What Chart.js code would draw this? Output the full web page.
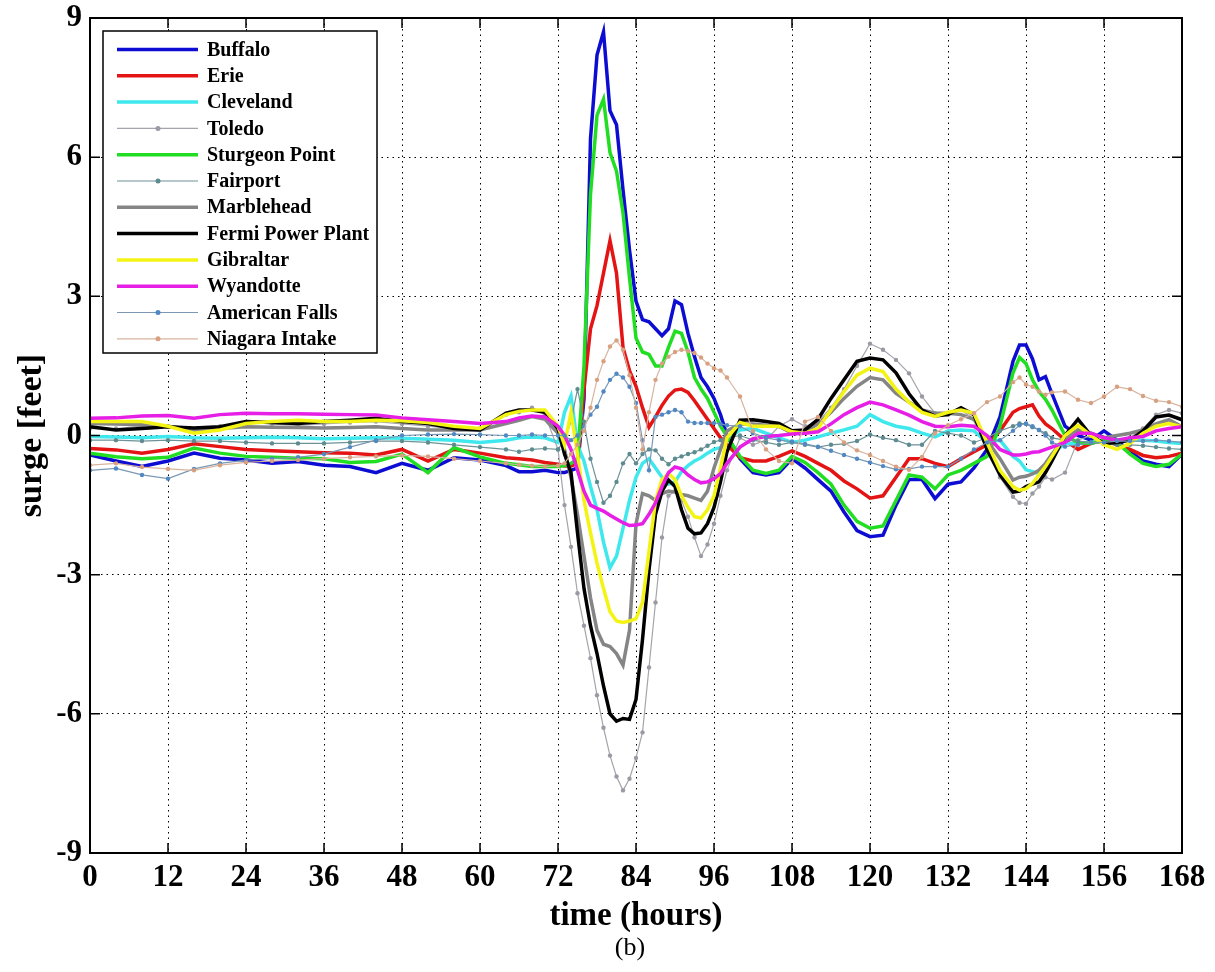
<!DOCTYPE html>
<html>
<head>
<meta charset="utf-8">
<title>surge</title>
<script src="https://cdn.jsdelivr.net/npm/chart.js@4.4.1/dist/chart.umd.min.js"></script>
<style>
	html, body { margin: 0; padding: 0; background: #fff; }
	canvas { display: block; }
</style>
</head>
<body>
<canvas id="surgeChart" width="1215" height="972"></canvas>
<script>
// sampling times (hours), denser during the storm
const hours = [
	0, 4, 8, 12, 16, 20, 24, 28, 32, 36, 40, 44, 48, 52, 56, 60, 64, 66, 68, 70, 72,
	73, 74, 75, 76, 77, 78, 79, 80, 81, 82, 83, 84, 85, 86, 87, 88, 89, 90, 91, 92, 93, 94, 95, 96, 97, 98,
	100, 102, 104, 106, 108, 110, 112, 114, 116, 118, 120, 122, 124, 126, 128, 130, 132, 134, 136, 138, 140, 142,
	143, 144, 145, 146, 147, 148,
	150, 152, 154, 156, 158, 160, 162, 164, 166, 168,
]

const buffalo = [
	-0.42, -0.55, -0.67, -0.55, -0.38, -0.49, -0.53, -0.6, -0.56, -0.64, -0.67, -0.8, -0.6, -0.75, -0.48, -0.53, -0.65, -0.78, -0.78, -0.75, -0.8,
	-0.8, -0.75, -0.7, 0.8, 6.4, 8.2, 8.7, 7.0, 6.7, 5.3, 4.0, 2.9, 2.5, 2.45, 2.3, 2.15, 2.3, 2.9, 2.82, 2.2, 1.7, 1.25, 1.05, 0.8, 0.45, 0.0,
	-0.5, -0.8, -0.85, -0.8, -0.5, -0.7, -0.95, -1.2, -1.65, -2.05, -2.18, -2.15, -1.5, -0.95, -0.95, -1.36, -1.05, -1.0, -0.7, -0.3, 0.4, 1.6,
	1.95, 1.95, 1.65, 1.2, 1.27, 0.9,
	0.2, 0.0, -0.1, 0.1, -0.1, -0.35, -0.55, -0.62, -0.67, -0.4,
]
const erie = [
	-0.28, -0.31, -0.38, -0.3, -0.18, -0.24, -0.3, -0.33, -0.35, -0.37, -0.38, -0.42, -0.3, -0.55, -0.3, -0.38, -0.48, -0.5, -0.53, -0.58, -0.62,
	-0.66, -0.66, -0.6, 1.0, 2.3, 2.8, 3.5, 4.2, 3.5, 1.9, 1.4, 1.06, 0.6, 0.18, 0.4, 0.65, 0.85, 0.98, 1.0, 0.93, 0.75, 0.55, 0.35, 0.15, -0.05, -0.2,
	-0.48, -0.55, -0.55, -0.45, -0.33, -0.45, -0.6, -0.75, -0.98, -1.15, -1.35, -1.3, -0.9, -0.5, -0.5, -0.6, -0.67, -0.5, -0.35, -0.2, 0.1, 0.5,
	0.58, 0.62, 0.66, 0.42, 0.25, 0.15,
	-0.1, -0.3, -0.17, -0.1, -0.2, -0.3, -0.43, -0.48, -0.45, -0.38,
]
const cleveland = [
	-0.02, -0.03, -0.05, -0.02, -0.05, -0.06, -0.05, -0.04, -0.05, -0.07, -0.06, -0.05, -0.06, -0.08, -0.1, -0.15, -0.1, -0.05, -0.03, -0.05, -0.15,
	0.5, 0.85, -0.2, -0.55, -1.1, -1.6, -2.3, -2.85, -2.6, -2.0, -1.4, -0.9, -0.6, -0.5, -0.7, -0.9, -1.05, -1.0, -0.78, -0.65, -0.55, -0.48, -0.38, -0.3, -0.26, -0.1,
	0.12, 0.15, 0.05, -0.05, -0.15, -0.1, -0.03, 0.05, 0.12, 0.2, 0.45, 0.3, 0.2, 0.15, 0.05, -0.03, 0.1, 0.12, 0.1, -0.15, -0.1, -0.45,
	-0.55, -0.74, -0.78, -0.82, -0.65, -0.4,
	-0.17, -0.17, -0.15, -0.1, -0.1, -0.1, -0.1, -0.12, -0.15, -0.17,
]
const toledo = [
	0.15, 0.15, 0.2, 0.2, 0.1, 0.2, 0.28, 0.25, 0.22, 0.25, 0.28, 0.3, 0.25, 0.2, 0.15, 0.15, 0.45, 0.5, 0.6, 0.45, -0.3,
	-1.5, -2.4, -3.4, -4.1, -4.8, -5.6, -6.3, -6.9, -7.35, -7.65, -7.4, -6.95, -6.4, -5.0, -3.6, -2.2, -1.3, -1.2, -1.4, -1.75, -2.2, -2.6, -2.35, -1.9, -1.3, -0.75,
	-0.05, -0.2, -0.1, 0.2, 0.35, 0.2, 0.3, 0.6, 1.0, 1.5, 1.98, 1.85, 1.63, 1.34, 0.84, 0.48, 0.45, 0.55, 0.35, -0.2, -0.9, -1.32,
	-1.45, -1.47, -1.25, -1.1, -0.9, -0.95,
	-0.8, -0.1, 0.0, -0.05, -0.1, -0.05, 0.15, 0.45, 0.55, 0.48,
]
const sturgeonPoint = [
	-0.38, -0.46, -0.5, -0.47, -0.27, -0.38, -0.45, -0.47, -0.49, -0.5, -0.58, -0.56, -0.4, -0.8, -0.26, -0.46, -0.6, -0.63, -0.67, -0.67, -0.67,
	-0.65, -0.6, -0.5, 1.5, 5.2, 6.9, 7.25, 6.1, 5.7, 4.8, 3.4, 2.1, 1.8, 1.75, 1.5, 1.5, 1.9, 2.25, 2.2, 1.8, 1.25, 1.0, 0.8, 0.5, 0.2, -0.02,
	-0.45, -0.75, -0.82, -0.75, -0.45, -0.58, -0.8, -1.05, -1.5, -1.85, -2.0, -1.95, -1.4, -0.85, -0.9, -1.15, -0.85, -0.75, -0.6, -0.45, 0.2, 1.35,
	1.68, 1.55, 1.2, 0.95, 0.78, 0.55,
	0.0, -0.15, -0.17, -0.1, -0.15, -0.4, -0.6, -0.67, -0.62, -0.4,
]
const fairport = [
	-0.1, -0.1, -0.12, -0.1, -0.12, -0.12, -0.15, -0.17, -0.17, -0.17, -0.15, -0.12, -0.12, -0.15, -0.2, -0.25, -0.3, -0.35, -0.3, -0.28, -0.3,
	-0.1, 0.3, 1.0, 0.3, -0.5, -1.0, -1.45, -1.3, -1.0, -0.6, -0.4, -0.6, -0.4, -0.3, -0.32, -0.5, -0.62, -0.5, -0.45, -0.4, -0.36, -0.3, -0.22, -0.14, -0.1, -0.05,
	0.0, -0.1, -0.15, -0.2, -0.15, -0.2, -0.25, -0.2, -0.18, -0.12, 0.02, -0.05, -0.1, -0.2, -0.2, 0.1, 0.05, 0.0, -0.15, -0.05, 0.1, 0.2,
	0.26, 0.25, 0.18, 0.12, 0.05, -0.05,
	-0.1, -0.12, -0.15, -0.18, -0.2, -0.2, -0.22, -0.25, -0.28, -0.3,
]
const marblehead = [
	0.26, 0.25, 0.23, 0.2, 0.12, 0.15, 0.19, 0.18, 0.17, 0.16, 0.17, 0.19, 0.15, 0.12, 0.12, 0.12, 0.26, 0.33, 0.41, 0.35, 0.05,
	-0.3, -0.9, -1.7, -2.6, -3.5, -4.2, -4.5, -4.55, -4.7, -4.95, -4.2, -1.9, -1.25, -1.3, -1.4, -1.25, -1.2, -1.22, -1.27, -1.3, -1.35, -1.4, -1.2, -0.7, -0.3, 0.1,
	0.25, 0.25, 0.22, 0.2, 0.05, 0.08, 0.25, 0.5, 0.8, 1.06, 1.25, 1.2, 0.91, 0.72, 0.55, 0.48, 0.48, 0.45, 0.35, -0.1, -0.5, -0.96,
	-0.9, -0.88, -0.83, -0.75, -0.6, -0.4,
	-0.05, 0.12, 0.05, -0.05, 0.0, 0.05, 0.12, 0.25, 0.34, 0.19,
]
const fermi = [
	0.19, 0.12, 0.15, 0.19, 0.16, 0.19, 0.3, 0.28, 0.26, 0.3, 0.33, 0.37, 0.3, 0.26, 0.15, 0.12, 0.48, 0.55, 0.55, 0.5, 0.15,
	-0.4, -0.8, -2.1, -3.3, -4.1, -4.7, -5.4, -6.0, -6.16, -6.1, -6.12, -5.69, -4.4, -2.9, -1.7, -1.2, -0.96, -1.1, -1.6, -2.0, -2.12, -2.1, -1.9, -1.55, -1.0, -0.35,
	0.33, 0.34, 0.3, 0.26, 0.1, 0.12, 0.35, 0.8, 1.2, 1.6, 1.67, 1.63, 1.35, 0.9, 0.55, 0.42, 0.45, 0.6, 0.45, -0.3, -0.85, -1.22,
	-1.2, -1.1, -1.05, -1.0, -0.8, -0.55,
	0.0, 0.35, 0.0, -0.17, -0.15, -0.1, 0.1, 0.4, 0.44, 0.34,
]
const gibraltar = [
	0.3, 0.3, 0.3, 0.2, 0.05, 0.12, 0.26, 0.3, 0.33, 0.3, 0.3, 0.33, 0.32, 0.28, 0.2, 0.15, 0.45, 0.52, 0.55, 0.55, 0.2,
	-0.2, 0.5, -0.4, -1.4, -2.1, -2.75, -3.3, -3.8, -4.0, -4.03, -4.0, -3.95, -3.6, -2.5, -1.4, -0.95, -0.82, -0.95, -1.3, -1.55, -1.75, -1.78, -1.6, -1.3, -0.7, -0.05,
	0.28, 0.2, 0.2, 0.2, 0.08, 0.05, 0.15, 0.55, 0.95, 1.3, 1.45, 1.38, 1.0, 0.72, 0.5, 0.41, 0.5, 0.55, 0.48, -0.15, -0.75, -1.1,
	-1.18, -1.15, -1.03, -0.85, -0.67, -0.45,
	0.0, 0.22, 0.0, -0.2, -0.3, -0.17, 0.05, 0.2, 0.26, 0.19,
]
const wyandotte = [
	0.37, 0.38, 0.42, 0.43, 0.37, 0.45, 0.48, 0.47, 0.47, 0.46, 0.45, 0.44, 0.38, 0.34, 0.3, 0.26, 0.3, 0.38, 0.42, 0.4, 0.2,
	0.0, -0.3, -0.75, -1.2, -1.5, -1.57, -1.63, -1.72, -1.8, -1.88, -1.94, -1.93, -1.9, -1.7, -1.45, -1.1, -0.8, -0.68, -0.72, -0.85, -0.95, -1.02, -1.0, -0.93, -0.82, -0.6,
	-0.25, -0.07, -0.02, 0.0, 0.03, 0.05, 0.08, 0.25, 0.45, 0.6, 0.72, 0.66, 0.55, 0.44, 0.3, 0.2, 0.19, 0.22, 0.2, 0.0, -0.3, -0.42,
	-0.42, -0.4, -0.36, -0.35, -0.3, -0.25,
	-0.15, 0.05, 0.05, -0.05, -0.1, -0.05, -0.02, 0.1, 0.15, 0.19,
]
const americanFalls = [
	-0.75, -0.71, -0.85, -0.93, -0.72, -0.6, -0.53, -0.5, -0.47, -0.4, -0.25, -0.1, 0.0, 0.02, 0.03, 0.02, 0.0, 0.0, 0.02, 0.0, 0.0,
	0.0, -0.1, 0.0, 0.2, 0.45, 0.62, 0.95, 1.2, 1.33, 1.25, 1.05, 0.7, -0.1, -0.75, 0.4, 0.45, 0.5, 0.55, 0.5, 0.3, 0.27, 0.27, 0.27, 0.27, 0.25, 0.22,
	0.2, 0.05, -0.05, -0.1, -0.13, -0.18, -0.24, -0.33, -0.42, -0.5, -0.58, -0.66, -0.73, -0.72, -0.67, -0.67, -0.67, -0.5, -0.3, -0.15, -0.1, 0.1,
	0.22, 0.26, 0.2, 0.12, 0.0, -0.15,
	-0.24, -0.2, -0.15, -0.15, -0.12, -0.12, -0.12, -0.1, -0.12, -0.15,
]
const niagaraIntake = [
	-0.64, -0.6, -0.68, -0.72, -0.75, -0.64, -0.58, -0.55, -0.53, -0.5, -0.47, -0.45, -0.43, -0.45, -0.5, -0.55, -0.6, -0.63, -0.65, -0.67, -0.65,
	-0.6, -0.4, -0.2, 0.1, 0.6, 1.2, 1.6, 1.92, 2.05, 1.85, 1.3, 0.6, -0.3, 0.5, 1.2, 1.55, 1.7, 1.8, 1.85, 1.82, 1.78, 1.68, 1.55, 1.45, 1.4, 1.25,
	0.84, 0.1, -0.3, -0.55, -0.6, 0.3, 0.4, 0.1, -0.15, -0.32, -0.42, -0.55, -0.67, -0.74, -0.46, 0.05, 0.22, 0.35, 0.48, 0.72, 0.84, 1.15,
	1.25, 1.1, 1.05, 0.95, 0.88, 0.93,
	0.95, 0.77, 0.7, 0.84, 1.05, 1.0, 0.85, 0.75, 0.72, 0.62,
]

const stations = [
	'Buffalo', 'Erie', 'Cleveland', 'Toledo', 'Sturgeon Point', 'Fairport',
	'Marblehead', 'Fermi Power Plant', 'Gibraltar', 'Wyandotte', 'American Falls', 'Niagara Intake',
]
const surgeSeries = [
	buffalo, erie, cleveland, toledo, sturgeonPoint, fairport,
	marblehead, fermi, gibraltar, wyandotte, americanFalls, niagaraIntake,
]
const hourTicks = [0, 12, 24, 36, 48, 60, 72, 84, 96, 108, 120, 132, 144, 156, 168]
const surgeTicks = [-9, -6, -3, 0, 3, 6, 9]

// line styles: [color, width, marker color or null]
const styles = [
	['#0c0cd2', 3.5, null],
	['#e41414', 3.5, null],
	['#3fe8ec', 3.5, null],
	['#a4a4ac', 1.2, '#9a9aa4'],
	['#22de22', 3.5, null],
	['#6e9296', 1.2, '#5c8c90'],
	['#858585', 3.5, null],
	['#000000', 3.5, null],
	['#f4f414', 3.5, null],
	['#e61ee6', 3.5, null],
	['#7a98b4', 1.2, '#4f88c4'],
	['#d8b4a0', 1.2, '#d9a080'],
]

const serif = "'Liberation Serif', 'Times New Roman', serif"

const matlabFrame = {
	id: 'matlabFrame',
	afterDatasetsDraw(chart) {
		const { ctx, chartArea: a, scales: { x, y } } = chart
		ctx.save()
		ctx.strokeStyle = '#000'
		ctx.lineWidth = 1.5
		ctx.beginPath()
		hourTicks.forEach(v => {
			const px = x.getPixelForValue(v)
			ctx.moveTo(px, a.bottom)
			ctx.lineTo(px, a.bottom - 10)
			ctx.moveTo(px, a.top)
			ctx.lineTo(px, a.top + 10)
		})
		surgeTicks.forEach(v => {
			const py = y.getPixelForValue(v)
			ctx.moveTo(a.left, py)
			ctx.lineTo(a.left + 10, py)
			ctx.moveTo(a.right, py)
			ctx.lineTo(a.right - 10, py)
		})
		ctx.stroke()
		ctx.lineWidth = 2
		ctx.strokeRect(a.left, a.top, a.width, a.height)

		// legend box in the upper left corner
		const box = { left: 103, top: 31, width: 274, height: 322 }
		ctx.fillStyle = '#fff'
		ctx.fillRect(box.left, box.top, box.width, box.height)
		ctx.lineWidth = 1.5
		ctx.strokeRect(box.left, box.top, box.width, box.height)
		ctx.font = 'bold 20px ' + serif
		ctx.textBaseline = 'middle'
		chart.data.datasets.forEach((ds, i) => {
			const rowY = 49.5 + i * 26.3
			ctx.strokeStyle = ds.borderColor
			ctx.lineWidth = ds.borderWidth
			ctx.beginPath()
			ctx.moveTo(117, rowY)
			ctx.lineTo(198, rowY)
			ctx.stroke()
			if (ds.pointRadius > 0) {
				ctx.fillStyle = ds.pointBackgroundColor
				ctx.beginPath()
				ctx.arc(158, rowY, 2.5, 0, Math.PI * 2)
				ctx.fill()
			}
			ctx.fillStyle = '#000'
			ctx.fillText(ds.label, 207, rowY + 1)
		})
		ctx.restore()
	},
	afterDraw(chart) {
		const { ctx, chartArea: a } = chart
		ctx.save()
		ctx.fillStyle = '#000'
		ctx.font = '26px ' + serif
		ctx.textAlign = 'center'
		ctx.textBaseline = 'middle'
		ctx.fillText('(b)', (a.left + a.right) / 2 - 6, 948)
		ctx.restore()
	},
}

const ctx = document.getElementById('surgeChart').getContext('2d')
const surgeChart = new Chart(ctx, {
	type: 'line',
	data: {
		datasets: stations.map((name, i) => ({
			label: name,
			data: hours.map((h, k) => ({ x: h, y: surgeSeries[i][k] })),
			borderColor: styles[i][0],
			borderWidth: styles[i][1],
			pointRadius: styles[i][2] ? 2.2 : 0,
			pointBackgroundColor: styles[i][2] || styles[i][0],
			pointBorderWidth: 0,
			tension: 0,
			order: stations.length - i,
		})),
	},
	options: {
		responsive: false,
		animation: false,
		layout: {
			padding: { top: 18, right: 33, left: 0, bottom: 0 },
		},
		plugins: {
			legend: { display: false },
			tooltip: { enabled: false },
		},
		scales: {
			x: {
				type: 'linear',
				min: 0,
				max: 168,
				afterBuildTicks: s => { s.ticks = hourTicks.map(v => ({ value: v })) },
				afterFit: s => { s.height = 119 },
				ticks: {
					color: '#000',
					padding: 6,
					maxRotation: 0,
					autoSkip: false,
					font: { family: serif, size: 31, weight: 'bold' },
				},
				grid: { color: '#000', lineWidth: 1, drawTicks: false },
				border: { display: false, dash: [1.5, 4] },
				title: {
					display: true,
					text: 'time (hours)',
					color: '#000',
					padding: { top: 0, bottom: 36 },
					font: { family: serif, size: 33, weight: 'bold' },
				},
			},
			y: {
				min: -9,
				max: 9,
				afterBuildTicks: s => { s.ticks = surgeTicks.map(v => ({ value: v })) },
				afterFit: s => {
					s.width = 90
					s.paddingTop = 0
					s.paddingBottom = 0
				},
				ticks: {
					color: '#000',
					padding: 8,
					font: { family: serif, size: 31, weight: 'bold' },
				},
				grid: { color: '#000', lineWidth: 1, drawTicks: false },
				border: { display: false, dash: [1.5, 4] },
				title: {
					display: true,
					text: 'surge [feet]',
					color: '#000',
					padding: { top: 12, bottom: 0 },
					font: { family: serif, size: 34, weight: 'bold' },
				},
			},
		},
	},
	plugins: [matlabFrame],
})
</script>
</body>
</html>
